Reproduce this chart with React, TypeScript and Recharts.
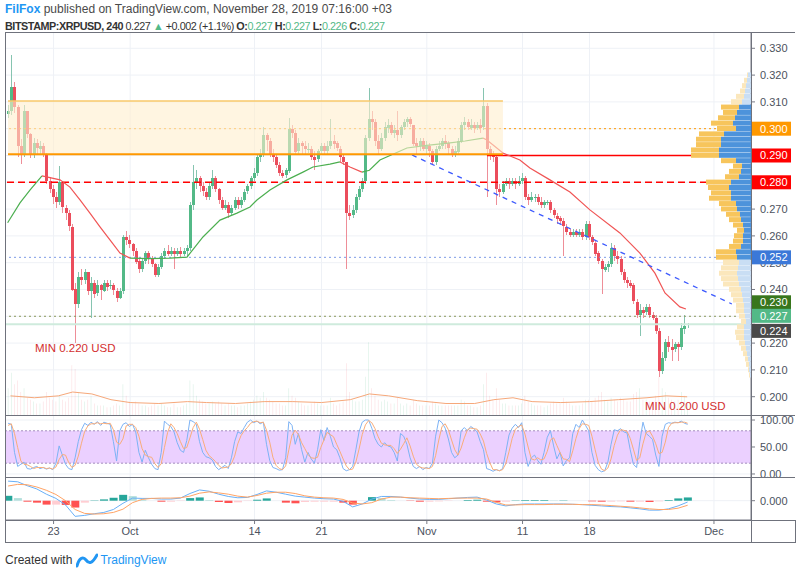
import React from "react";
import {
  ComposedChart,
  Bar,
  Line,
  XAxis,
  YAxis,
  CartesianGrid,
  ReferenceLine,
  ReferenceArea,
  ReferenceDot,
  Cell,
} from "recharts";

// time axis is "days since Sep 1 2019"; 8h candles, prices in thousandths of a USD
const CANDLE_START = 17.25;
const CANDLE_STEP = 1 / 3;
const OPEN_FIRST = 305.5;

const CLOSE = [
  306.5, 315.5, 308, 293.5, 290.5, 306.5, 298, 290.5, 294.5, 292.5,
  293.5, 290.5, 280.5, 277.5, 274.5, 272.5, 280, 270.5, 268.5, 263.5,
  240, 234.5, 244.5, 243.5, 246.5, 239.5, 242.5, 238.5, 241.5, 239.5,
  242.5, 241, 241.5, 239.5, 237, 239.5, 259.5, 258.5, 257, 254.5,
  250.5, 247.5, 250.5, 253.5, 251.5, 249.5, 245.5, 248.5, 252.5, 254.5,
  253.5, 254.5, 253.5, 254.5, 253.5, 254.5, 255.5, 271.5, 280, 281.5,
  278.5, 276.5, 274.5, 278.5, 281.5, 277.5, 273.5, 270.5, 271.5, 268.5,
  270.5, 273.5, 271.5, 273.5, 276.5, 278.5, 281.5, 283.5, 289.5, 290.5,
  297.5, 295.5, 290.5, 289.5, 286.5, 283.5, 282.5, 284.5, 300, 298.5,
  291.5, 294.5, 293.5, 292.5, 292.5, 289.5, 288.5, 291.5, 293.5, 291.5,
  293.5, 295.5, 294.5, 292.5, 289.5, 287.5, 268.5, 267.5, 269.5, 274.5,
  277.5, 280.5, 296.5, 303.5, 302.5, 295.5, 292.5, 296.5, 300.5, 301.5,
  298.5, 299.5, 297.5, 300.5, 302.5, 303.5, 301.5, 294.5, 293.5, 295.5,
  292.5, 293.5, 291.5, 287.5, 292.5, 293.5, 295.5, 294.5, 292.5, 290.5,
  291.5, 295.5, 301.5, 302.5, 300.5, 301.5, 300.5, 301.5, 300.5, 308.5,
  292.5, 290.5, 289.5, 277.5, 276.5, 279.5, 280.5, 279.5, 280.5, 279.5,
  280.5, 281.5, 274.5, 273.5, 274.5, 274.5, 272.5, 271.5, 272.5, 272.5,
  269.5, 267.5, 266.5, 265.5, 263.5, 261.5, 260.5, 261.5, 260.5, 261.5,
  259.5, 264.5, 259.5, 257.5, 253.5, 250.5, 247.5, 248.5, 249.5, 255.5,
  252.5, 251.5, 246.5, 243.5, 242.5, 241.5, 235.5, 230.5, 232.5, 231.5,
  233.5, 230.5, 229.5, 224.5, 209.5, 214.5, 220.5, 218.5, 217.5, 219.5,
  218.5, 225.5, 226.5, 227,
];

const HIGH = [
  309, 327.5, 317.5, 309, 296, 309, 306.5, 298.5, 296.5, 296,
  295.5, 294.5, 291, 282, 279, 276.5, 286, 280.5, 271.5, 269.5,
  264.5, 242.5, 246.5, 247.5, 247.5, 246.5, 244.5, 243.5, 243.5, 242,
  243.5, 243.5, 243.5, 242.5, 240.5, 240.5, 260.5, 262, 260.5, 257.5,
  255.5, 251.5, 251.5, 254.5, 254.5, 252.5, 250, 249.5, 253.5, 255.5,
  256.5, 256, 255.5, 255.5, 256, 255.5, 256.5, 272.5, 286.5, 284.5,
  282.5, 280, 278, 280, 284.5, 282.5, 278, 274.5, 273.5, 272.5,
  271.5, 274.5, 274.5, 274.5, 277.5, 279.5, 282.5, 285.5, 290.5, 292.5,
  300.5, 298.5, 296.5, 292.5, 290.5, 287.5, 284.5, 285.5, 304, 301.5,
  299.5, 296.5, 295.5, 295.5, 294.5, 293.5, 291.5, 292.5, 294.5, 294.5,
  295.5, 303.5, 297.5, 295.5, 293.5, 290.5, 287.5, 271.5, 271.5, 275.5,
  278.5, 281.5, 297.5, 315, 306.5, 303.5, 297.5, 298.5, 302.5, 303.5,
  302.5, 301.5, 306.5, 301.5, 303.5, 304.5, 304.5, 301.5, 296.5, 296.5,
  296.5, 295.5, 294.5, 292.5, 293.5, 295.5, 296.5, 297.5, 295.5, 293.5,
  293.5, 296.5, 302.5, 304.5, 303.5, 303.5, 302.5, 302.5, 303.5, 315,
  309.5, 293.5, 291.5, 290.5, 279.5, 280.5, 281.5, 281.5, 281.5, 281.5,
  282.5, 283.5, 282.5, 275.5, 276.5, 275.5, 275.5, 274.5, 273.5, 273.5,
  273.5, 270.5, 268.5, 267.5, 266.5, 264.5, 262.5, 262.5, 262.5, 262.5,
  262.5, 265.5, 265.5, 260.5, 258.5, 254.5, 251.5, 249.5, 250.5, 257.5,
  256.5, 254.5, 252.5, 247.5, 244.5, 243.5, 242.5, 236.5, 234.5, 233.5,
  234.5, 234.5, 231.5, 230.5, 225.5, 216.5, 221.5, 222.5, 221.5, 220.5,
  220.5, 227.5, 230.5, 227.5,
];

const LOW = [
  304, 305, 306, 289.5, 287, 289.5, 296.5, 289, 289, 290.5,
  290.5, 289.5, 279.5, 276, 272, 270.5, 271.5, 268.5, 266, 262,
  239.5, 220, 233, 241.5, 242, 238, 229.5, 237, 237.5, 236,
  239, 239.5, 240, 238, 235.5, 236.5, 238.5, 256.5, 255.5, 252.5,
  249.5, 246, 246.5, 249.5, 249.5, 248.5, 244.5, 244.5, 247.5, 251.5,
  252.5, 252.5, 247.5, 252.5, 252, 252.5, 252.5, 254.5, 269.5, 277.5,
  276.5, 275, 273.5, 273.5, 277.5, 276.5, 272, 269.5, 269.5, 266.5,
  267.5, 269.5, 270, 270.5, 272.5, 275.5, 277.5, 280.5, 282.5, 287.5,
  289.5, 291.5, 289.5, 287.5, 285.5, 282.5, 281.5, 281.5, 283.5, 296.5,
  290, 290.5, 290.5, 290.5, 291, 288.5, 284.5, 287.5, 290.5, 290.5,
  290.5, 292.5, 292.5, 291.5, 287.5, 286.5, 247.5, 266, 266.5, 268.5,
  273.5, 276.5, 279.5, 295.5, 299.5, 293.5, 290.5, 291.5, 295.5, 298.5,
  297.5, 296.5, 295.5, 296.5, 299.5, 300.5, 300.5, 293.5, 290.5, 291.5,
  291.5, 290.5, 289.5, 286.5, 286.5, 291.5, 292.5, 292.5, 290.5, 289.5,
  289.5, 290.5, 294.5, 299.5, 299.5, 299.5, 298.5, 299.5, 298.5, 299.5,
  274.5, 288.5, 287.5, 271.5, 274.5, 275.5, 278.5, 277.5, 278.5, 277.5,
  278.5, 279.5, 273.5, 271.5, 272.5, 272.5, 271.5, 270.5, 270.5, 271.5,
  268.5, 266.5, 264.5, 264.5, 252.5, 260.5, 259.5, 259.5, 259.5, 259.5,
  258.5, 258.5, 258.5, 256.5, 252.5, 249.5, 238.5, 246.5, 246.5, 248.5,
  250.5, 249.5, 245.5, 242.5, 240.5, 240.5, 234.5, 229.5, 222.5, 229.5,
  230.5, 229.5, 228.5, 223.5, 207.5, 208.5, 213.5, 216.5, 213.5, 216.5,
  213.5, 217.5, 223.5, 225.5,
];

const VOLUME = [
  14, 22, 16, 18, 12, 14, 9, 8, 7, 6,
  6, 7, 12, 9, 8, 7, 10, 8, 7, 9,
  26, 24, 12, 8, 7, 8, 10, 6, 5, 5,
  5, 4, 4, 5, 6, 5, 16, 10, 7, 6,
  7, 6, 5, 5, 4, 5, 6, 5, 6, 5,
  4, 4, 6, 4, 4, 5, 6, 18, 16, 10,
  8, 7, 6, 6, 7, 6, 7, 6, 5, 6,
  5, 5, 4, 5, 5, 6, 7, 8, 10, 9,
  12, 9, 8, 7, 6, 6, 5, 5, 14, 10,
  9, 7, 6, 5, 5, 6, 7, 6, 5, 5,
  5, 9, 6, 5, 6, 7, 27, 12, 8, 7,
  7, 8, 20, 38, 14, 10, 8, 7, 8, 7,
  6, 6, 9, 6, 5, 6, 5, 8, 6, 5,
  5, 5, 5, 7, 6, 5, 5, 5, 5, 5,
  5, 5, 8, 7, 5, 5, 4, 4, 5, 16,
  22, 10, 8, 14, 8, 6, 6, 5, 5, 5,
  5, 6, 10, 7, 6, 5, 5, 5, 4, 5,
  6, 7, 6, 6, 9, 7, 6, 5, 5, 5,
  6, 8, 8, 7, 9, 10, 12, 8, 7, 9,
  8, 7, 9, 8, 7, 7, 11, 12, 14, 8,
  8, 7, 7, 10, 20, 14, 12, 9, 8, 7,
  8, 12, 10, 6,
];

const VOL_MA_T = [17.5, 20, 22.5, 24, 26, 28, 30, 33, 36, 38, 41, 44, 47, 50, 53, 55, 57, 60, 63, 66, 68, 70, 72, 75, 78, 81, 84, 86, 88.2];
const VOL_MA = [10, 9, 10, 12, 11, 8, 6.5, 6, 7, 6.5, 6, 7, 7, 6.5, 8, 11, 10, 7.5, 6, 6, 8, 9, 7, 6.5, 7, 8, 9, 10, 9.5];

// moving average, coloured green / red by segment
const MA_T = [
  17.2, 18.49, 19.53, 20.79, 22.67, 23.71, 24.76, 25.8, 26.85, 27.89, 28.94, 29.98,
  32.07, 34.16, 35.94, 37.61, 39.39, 41.16, 42.52, 43.25, 44.61, 46.39, 48.06, 49.1,
  50.88, 51.92, 52.97, 54.22, 55.0, 56.1, 58.92, 61.0, 63.42, 65.0, 66.86, 67.28,
  68.95, 70.72, 71.77, 73.86, 75.95, 78.04, 81.17, 83.26, 84.83, 85.88, 87.44, 88.07,
];
const MA_V = [
  264.9, 272.3, 277.1, 282.4, 280.9, 278.2, 273.4, 268.5, 263.4, 258.5, 253.6, 251.7,
  251.5, 251.7, 252.1, 259.6, 265.9, 268.5, 270.8, 273.4, 277.1, 280.9, 283.8, 285.7,
  286.8, 287.6, 285.7, 283.8, 284.5, 288.3, 292.8, 293.8, 294.7, 295.4, 296.5, 295.8,
  290.9, 288.3, 285.3, 280.9, 276.4, 269.7, 261.1, 253.6, 246.1, 238.7, 233.5, 232.7,
];
const MA_COLOR = "ggg" + "rrrrrrrr" + "gggggggggggggg" + "rr" + "ggggggg" + "rrrrrrrrrrrrrr";

const STOCH_K = [
  94, 92, 40, 14, 18, 22, 10, 9, 12, 14,
  10, 12, 9, 11, 8, 20, 52, 35, 18, 10,
  8, 30, 60, 82, 94, 90, 96, 92, 97, 90,
  96, 94, 92, 60, 24, 80, 92, 95, 88, 92,
  78, 40, 22, 44, 30, 18, 10, 8, 40, 98,
  92, 88, 78, 58, 44, 40, 62, 100, 97, 92,
  60, 40, 32, 30, 26, 14, 8, 12, 16, 10,
  30, 60, 78, 75, 86, 96, 100, 95, 98, 93,
  96, 55, 25, 12, 10, 7, 8, 30, 97, 90,
  55, 75, 45, 22, 40, 28, 20, 45, 82, 62,
  86, 70, 50, 45, 30, 10, 6, 8, 14, 45,
  78, 96, 100, 100, 85, 66, 55, 50, 58, 52,
  50, 40, 24, 75, 70, 55, 30, 14, 10, 14,
  8, 12, 10, 20, 70, 100, 95, 85, 65, 40,
  30, 35, 80, 86, 80, 88, 84, 78, 60, 45,
  10, 8, 5, 8, 6, 10, 40, 72, 85, 92,
  86, 95, 40, 14, 30, 35, 25, 18, 40, 68,
  80, 52, 28, 40, 15, 25, 30, 75, 92, 86,
  100, 90, 80, 40, 16, 8, 4, 6, 22, 55,
  82, 80, 84, 78, 76, 45, 18, 12, 60, 96,
  75, 70, 64, 35, 14, 70, 92, 95, 94, 96,
  95, 98, 94, 92,
];
const STOCH_D = [
  90, 93, 75, 49, 24, 18, 17, 14, 10, 12,
  12, 12, 10, 11, 9, 13, 27, 36, 35, 21,
  12, 16, 33, 57, 79, 89, 93, 93, 95, 93,
  94, 93, 94, 82, 59, 55, 65, 89, 92, 92,
  86, 70, 47, 35, 32, 31, 19, 12, 19, 49,
  77, 93, 86, 75, 60, 47, 49, 67, 86, 96,
  83, 64, 44, 34, 29, 23, 16, 11, 12, 13,
  19, 33, 56, 71, 80, 86, 94, 97, 98, 95,
  96, 81, 59, 31, 16, 10, 8, 15, 45, 72,
  81, 73, 58, 47, 36, 30, 29, 31, 49, 63,
  77, 73, 69, 55, 42, 28, 15, 8, 9, 22,
  46, 73, 91, 99, 95, 84, 69, 57, 54, 53,
  53, 47, 38, 46, 56, 67, 52, 33, 18, 13,
  11, 11, 10, 14, 34, 63, 88, 93, 82, 63,
  45, 35, 48, 67, 82, 85, 84, 83, 74, 61,
  38, 21, 8, 8, 6, 8, 19, 41, 66, 83,
  88, 91, 74, 50, 28, 26, 30, 26, 28, 42,
  63, 67, 53, 40, 28, 27, 23, 43, 66, 84,
  93, 92, 90, 70, 45, 21, 9, 6, 11, 28,
  53, 72, 82, 81, 79, 66, 46, 25, 30, 56,
  77, 80, 70, 56, 38, 40, 59, 86, 94, 95,
  95, 96, 96, 94,
];

// daily MACD / signal, in thousandths
const MACD_START = 17.25;
const MACD = [
  6.0, 5.8, 4.6, 3.6, 2.0, 0.7, -1.3, -4.8, -4.5, -4.0,
  -3.6, -2.7, -0.8, 0.8, 0.7, 0.7, 0.5, 0.5, 0.8, 2.2,
  3.3, 2.9, 2.0, 1.3, 0.9, 1.0, 1.9, 3.0, 2.6, 2.0,
  1.4, 1.1, 0.8, 0.6, 0.5, -0.2, -1.9, -1.0, 0.5, 1.3,
  1.3, 1.1, 0.8, 0.5, 0.4, 0.4, 0.6, 0.8, 1.0, 1.1,
  0.2, -1.0, -1.6, -1.2, -1.0, -1.0, -1.0, -1.0, -1.0, -1.1,
  -1.2, -1.4, -1.6, -1.8, -1.9, -2.2, -2.5, -2.9, -2.9, -2.5,
  -1.6, -0.4,
];
const SIGNAL = [
  4.5, 5.0, 4.9, 4.2, 3.2, 1.9, 0.0, -2.7, -3.9, -4.1,
  -4.0, -3.6, -2.6, -0.6, 0.4, 0.7, 0.8, 0.8, 0.9, 1.4,
  2.3, 2.7, 2.4, 2.0, 1.4, 1.1, 1.6, 2.3, 2.6, 2.6,
  2.2, 1.5, 1.1, 0.9, 0.8, 0.4, -0.7, -1.0, -0.6, 0.5,
  1.1, 1.1, 0.9, 0.8, 0.7, 0.6, 0.7, 0.8, 0.8, 0.8,
  0.5, -0.5, -1.3, -1.3, -1.2, -1.2, -1.2, -1.1, -1.1, -1.1,
  -1.2, -1.2, -1.3, -1.5, -1.7, -1.9, -2.2, -2.5, -2.7, -2.7,
  -2.3, -1.4,
];

// visible range volume profile, rows of 0.002
const VP_PRICE = [
  320, 318, 316, 314, 312, 310, 308, 306, 304, 302, 300, 298, 296, 294, 292, 290,
  288, 286, 284, 282, 280, 278, 276, 274, 272, 270, 268, 266, 264, 262, 260, 258,
  256, 254, 252, 250, 248, 246, 244, 242, 240, 238, 236, 234, 232, 230, 228, 226,
  224, 222, 220, 218, 216, 214, 212, 210, 208,
];
const VP_TOTAL = [
  4, 7, 9, 11, 15, 20, 30, 28, 33, 40, 34, 52, 55, 55, 60, 60,
  30, 18, 22, 26, 45, 43, 40, 42, 32, 30, 25, 22, 18, 14, 17, 18,
  22, 35, 35, 28, 30, 32, 30, 28, 22, 20, 18, 15, 15, 12, 10, 14,
  16, 15, 12, 10, 8, 6, 5, 3, 2,
];
const VP_UP = [
  3, 4, 5, 6, 7, 9, 12, 14, 16, 18, 15, 27, 30, 30, 32, 32,
  15, 9, 10, 12, 20, 22, 20, 20, 15, 14, 11, 10, 8, 7, 8, 8,
  10, 15, 14, 12, 13, 14, 13, 12, 10, 9, 8, 7, 7, 6, 5, 7,
  7, 7, 6, 5, 4, 3, 2, 2, 1,
];

const DATE_TICKS = [22, 30, 43, 50, 61, 71, 78, 91];
const DATE_LABELS = ["23", "Oct", "14", "21", "Nov", "11", "18", "Dec"];
const PRICE_TICKS = [0.2, 0.21, 0.22, 0.23, 0.24, 0.25, 0.26, 0.27, 0.28, 0.29, 0.3, 0.31, 0.32, 0.33];
// price-scale badges; dy keeps the three close ones from stacking on each other
const PRICE_MARKS = [
  { p: 0.3, color: "#FF9800", dy: 0 },
  { p: 0.29, color: "#FF0000", dy: 0 },
  { p: 0.28, color: "#FF0000", dy: 0 },
  { p: 0.252, color: "#3B78D8", dy: 0 },
  { p: 0.23, color: "#38761D", dy: -14 },
  { p: 0.227, color: "#53B987", dy: -8.5 },
  { p: 0.224, color: "#4A4A4A", dy: -1.5 },
];

const UP = "#53B987";
const DOWN = "#EB4D5C";
const X_DOMAIN: [number, number] = [17.03, 94.87];
const P_DOMAIN: [number, number] = [0.19317, 0.33608];
const AXIS = "#787B86";
const GRID = "#EEF1F6";
const TEXT = "#4C525E";
const BOX = { x1: 17.24, x2: 68.95, y1: 0.2905, y2: 0.3103 };

const candles = CLOSE.map((c, i) => {
  const open = (i === 0 ? OPEN_FIRST : CLOSE[i - 1]) / 1000;
  const close = c / 1000;
  const high = Math.max(HIGH[i] / 1000, open, close);
  const low = Math.min(LOW[i] / 1000, open, close);
  return { t: CANDLE_START + i * CANDLE_STEP, open, close, high, low, range: [low, high], vol: VOLUME[i] };
});

const volMaRows = VOL_MA_T.map((t, i) => ({ t, v: VOL_MA[i] }));

const maRows = MA_T.map((t, i) => {
  const v = MA_V[i] / 1000;
  const g = MA_COLOR[i] === "g" || (i > 0 && MA_COLOR[i - 1] === "g");
  const r = MA_COLOR[i] === "r" || (i > 0 && MA_COLOR[i - 1] === "r");
  return { t, g: g ? v : null, r: r ? v : null };
});

const stochRows = STOCH_K.map((k, i) => ({ t: CANDLE_START + i * CANDLE_STEP, k, d: STOCH_D[i] }));

const macdRows = MACD.map((m, i) => {
  const hist = m - SIGNAL[i];
  const prev = i > 0 ? MACD[i - 1] - SIGNAL[i - 1] : hist;
  let color;
  if (hist >= 0) color = hist >= prev ? "#26A69A" : "#B2DFDB";
  else color = hist < prev ? "#FF5252" : "#FFCDD2";
  return { t: MACD_START + i, macd: m, sig: SIGNAL[i], hist, color };
});

const vpRows = VP_PRICE.map((p, i) => {
  const inValueArea = p >= 252 && p <= 308;
  return {
    p: p / 1000,
    up: VP_UP[i],
    down: VP_TOTAL[i] - VP_UP[i],
    upColor: inValueArea ? "#4D93DB" : "#C9DEF4",
    downColor: inValueArea ? "#F7C55C" : "#FBE7BC",
  };
});

function Candle(props: any) {
  const { x, y, width, height, payload } = props;
  if (!payload || !isFinite(y) || !isFinite(height)) return null;
  const { open, close, high, low } = payload;
  const top = Math.min(y, y + height);
  const h = Math.abs(height);
  const k = high > low ? h / (high - low) : 0;
  const yO = top + (high - open) * k;
  const yC = top + (high - close) * k;
  const up = close >= open;
  const bodyTop = Math.round(Math.min(yO, yC));
  const bodyH = Math.max(1, Math.round(Math.abs(yO - yC)));
  const cx = Math.round(x + width / 2);
  return (
    <g shapeRendering="crispEdges">
      <line x1={cx + 0.5} x2={cx + 0.5} y1={top} y2={top + h} stroke={up ? "#86C4B0" : "#EE8E98"} strokeWidth={1} />
      <rect x={cx - 1} y={bodyTop} width={3} height={bodyH} fill={up ? UP : DOWN} />
    </g>
  );
}

function PriceTick(props: any) {
  const { x, y, payload } = props;
  const v = payload.value as number;
  const mark = PRICE_MARKS.find((m) => Math.abs(m.p - v) < 1e-7);
  if (mark) {
    const cy = y + mark.dy;
    return (
      <g>
        <rect x={x - 8} y={cy - 7} width={39} height={14} fill={mark.color} />
        <text x={x} y={cy + 4} fill="#fff" fontSize={11}>
          {v.toFixed(3)}
        </text>
      </g>
    );
  }
  return (
    <text x={x} y={y + 4} fill={TEXT} fontSize={11}>
      {v.toFixed(3)}
    </text>
  );
}

const hLine = (top: number, left = 5, width = 790) => (
  <div style={{ position: "absolute", left, top, width, height: 1, background: "#6F727C" }} />
);
const vLine = (left: number, top: number, height: number) => (
  <div style={{ position: "absolute", left, top, width: 1, height, background: "#6F727C" }} />
);

export default function App() {
  const priceTicks = [
    ...PRICE_TICKS.filter((v) => !PRICE_MARKS.some((m) => Math.abs(m.p - v) < 1e-7)),
    ...PRICE_MARKS.map((m) => m.p).sort((a, b) => b - a),
  ];
  const teal = { color: UP };
  return (
    <div
      style={{
        position: "absolute",
        left: 0,
        top: 0,
        width: 800,
        height: 575,
        background: "#fff",
        overflow: "hidden",
        fontFamily: "'Liberation Sans', Arial, sans-serif",
      }}
    >
      <style>{`.recharts-surface{overflow:visible}`}</style>
      <div style={{ position: "absolute", left: 5, top: 2, fontSize: 12, color: "#4A4A4A", whiteSpace: "nowrap" }}>
        <span style={{ color: "#2196F3", fontWeight: 600 }}>FilFox</span> published on TradingView.com, November 28, 2019 07:16:00 +03
      </div>
      <div
        style={{
          position: "absolute",
          left: 5,
          top: 20,
          fontSize: 10.8,
          letterSpacing: -0.45,
          color: "#333",
          whiteSpace: "nowrap",
        }}
      >
        <b>BITSTAMP:XRPUSD, 240</b> 0.227 <span style={teal}>▲</span> +0.002 (+1.1%) <b>O:</b>
        <span style={teal}>0.227</span> <b>H:</b>
        <span style={teal}>0.227</span> <b>L:</b>
        <span style={teal}>0.226</span> <b>C:</b>
        <span style={teal}>0.227</span>
      </div>

      {/* price pane */}
      <div style={{ position: "absolute", left: 6, top: 32 }}>
        <ComposedChart width={789} height={383} data={candles} margin={{ top: 0, right: 0, bottom: 0, left: 0 }}>
          <CartesianGrid
            xAxisId="x"
            yAxisId="p"
            stroke={GRID}
            horizontalValues={PRICE_TICKS}
            verticalValues={DATE_TICKS}
          />
          <XAxis xAxisId="x" dataKey="t" type="number" domain={X_DOMAIN} allowDataOverflow hide ticks={DATE_TICKS} />
          <XAxis xAxisId="xv" dataKey="t" type="number" domain={X_DOMAIN} allowDataOverflow hide />
          <YAxis
            yAxisId="p"
            orientation="right"
            width={44}
            domain={P_DOMAIN}
            allowDataOverflow
            ticks={priceTicks}
            interval={0}
            tick={PriceTick}
            tickSize={4}
            tickMargin={5}
            axisLine={{ stroke: AXIS }}
            tickLine={{ stroke: AXIS }}
          />
          <YAxis yAxisId="v" hide domain={[0, 200]} allowDataOverflow />

          <Bar xAxisId="xv" yAxisId="v" dataKey="vol" barSize={2} isAnimationActive={false}>
            {candles.map((c, i) => (
              <Cell key={i} fill={c.close >= c.open ? "rgba(83,185,135,0.3)" : "rgba(235,77,92,0.26)"} />
            ))}
          </Bar>
          <Line
            xAxisId="xv"
            yAxisId="v"
            data={volMaRows}
            dataKey="v"
            stroke="#F6A87A"
            strokeWidth={1}
            dot={false}
            isAnimationActive={false}
          />

          <ReferenceLine xAxisId="x" yAxisId="p" y={0.3} stroke="#FF9800" strokeDasharray="2 3" />
          <ReferenceLine xAxisId="x" yAxisId="p" y={0.28} stroke="#FF0000" strokeWidth={1.5} strokeDasharray="7 4" />
          <ReferenceLine xAxisId="x" yAxisId="p" y={0.252} stroke="#7E9CE6" strokeDasharray="2 3" />
          <ReferenceLine xAxisId="x" yAxisId="p" y={0.23} stroke="#8C9A5B" strokeDasharray="2 3" />
          <ReferenceLine xAxisId="x" yAxisId="p" y={0.227} stroke="#CFEBDD" strokeWidth={2} />
          <ReferenceLine
            xAxisId="x"
            yAxisId="p"
            segment={[{ x: 67.28, y: 0.29 }, { x: 94.87, y: 0.29 }]}
            stroke="#FF0000"
            strokeWidth={1.5}
          />

          <Bar xAxisId="x" yAxisId="p" dataKey="range" barSize={3} shape={Candle} isAnimationActive={false} />

          <Line xAxisId="x" yAxisId="p" data={maRows} dataKey="g" stroke="#4CAF50" strokeWidth={1.2} dot={false} isAnimationActive={false} />
          <Line xAxisId="x" yAxisId="p" data={maRows} dataKey="r" stroke="#F05555" strokeWidth={1.2} dot={false} isAnimationActive={false} />

          <ReferenceLine
            xAxisId="x"
            yAxisId="p"
            segment={[{ x: 59.45, y: 0.2902 }, { x: 92.87, y: 0.2346 }]}
            stroke="#3D5AFE"
            strokeWidth={1.3}
            strokeDasharray="5 5"
          />
          <ReferenceDot
            xAxisId="x"
            yAxisId="p"
            x={19.53}
            y={0.2182}
            r={0}
            fill="none"
            stroke="none"
            label={{ value: "MIN 0.220 USD", position: "right", fill: "#D32F2F", fontSize: 11.5 }}
          />
          <ReferenceDot
            xAxisId="x"
            yAxisId="p"
            x={83.27}
            y={0.19669}
            r={0}
            fill="none"
            stroke="none"
            label={{ value: "MIN 0.200 USD", position: "right", fill: "#D32F2F", fontSize: 11.5 }}
          />
        </ComposedChart>
      </div>

      {/* rectangle drawing, laid over the candles so they show through faded */}
      <div style={{ position: "absolute", left: 6, top: 32 }}>
        <ComposedChart width={789} height={383} data={candles} margin={{ top: 0, right: 0, bottom: 0, left: 0 }}>
          <XAxis dataKey="t" type="number" domain={X_DOMAIN} allowDataOverflow hide />
          <YAxis
            orientation="right"
            width={44}
            domain={P_DOMAIN}
            allowDataOverflow
            tick={false}
            tickLine={false}
            axisLine={false}
          />
          <ReferenceArea
            x1={BOX.x1}
            x2={BOX.x2}
            y1={BOX.y1}
            y2={BOX.y2}
            fill="rgb(255,238,205)"
            fillOpacity={0.6}
            stroke="none"
          />
          <ReferenceLine
            segment={[{ x: BOX.x1, y: BOX.y2 }, { x: BOX.x2, y: BOX.y2 }]}
            stroke="#F9C96A"
            strokeWidth={1.5}
          />
          <ReferenceLine
            segment={[{ x: BOX.x1, y: BOX.y1 }, { x: BOX.x2, y: BOX.y1 }]}
            stroke="#FF9800"
            strokeWidth={2}
          />
        </ComposedChart>
      </div>

      {/* volume profile */}
      <div style={{ position: "absolute", left: 690, top: 32 }}>
        <ComposedChart layout="vertical" width={61} height={383} data={vpRows} margin={{ top: 0, right: 0, bottom: 0, left: 0 }}>
          <XAxis type="number" domain={[0, 61]} reversed hide allowDataOverflow />
          <YAxis type="number" dataKey="p" domain={P_DOMAIN} reversed hide allowDataOverflow />
          <Bar dataKey="up" stackId="vp" barSize={5} isAnimationActive={false}>
            {vpRows.map((r, i) => (
              <Cell key={i} fill={r.upColor} />
            ))}
          </Bar>
          <Bar dataKey="down" stackId="vp" barSize={5} isAnimationActive={false}>
            {vpRows.map((r, i) => (
              <Cell key={i} fill={r.downColor} />
            ))}
          </Bar>
        </ComposedChart>
      </div>

      {/* stochastic RSI pane */}
      <div style={{ position: "absolute", left: 6, top: 415 }}>
        <ComposedChart width={789} height={62} data={stochRows} margin={{ top: 0, right: 0, bottom: 0, left: 0 }}>
          <CartesianGrid stroke={GRID} horizontalValues={[0, 100]} verticalValues={DATE_TICKS} />
          <XAxis dataKey="t" type="number" domain={X_DOMAIN} allowDataOverflow hide ticks={DATE_TICKS} />
          <YAxis
            orientation="right"
            width={44}
            domain={[-5.6, 109.3]}
            allowDataOverflow
            ticks={[0, 50, 100]}
            interval={0}
            tickFormatter={(v: number) => v.toFixed(2)}
            tick={{ fontSize: 11, fill: TEXT }}
            tickSize={4}
            tickMargin={5}
            axisLine={{ stroke: AXIS }}
            tickLine={{ stroke: AXIS }}
          />
          <ReferenceArea y1={20} y2={80} fill="#9915FF" fillOpacity={0.2} stroke="none" />
          <ReferenceLine y={80} stroke="#A48DBE" strokeDasharray="2 2" />
          <ReferenceLine y={20} stroke="#A48DBE" strokeDasharray="2 2" />
          <Line dataKey="k" stroke="#7DB3F5" strokeWidth={1} dot={false} isAnimationActive={false} />
          <Line dataKey="d" stroke="#F9AD7A" strokeWidth={1} dot={false} isAnimationActive={false} />
        </ComposedChart>
      </div>

      {/* MACD pane with date axis */}
      <div style={{ position: "absolute", left: 6, top: 477 }}>
        <ComposedChart width={789} height={65} data={macdRows} margin={{ top: 0, right: 0, bottom: 0, left: 0 }}>
          <CartesianGrid stroke={GRID} horizontalValues={[0]} verticalValues={DATE_TICKS} />
          <XAxis
            dataKey="t"
            type="number"
            domain={X_DOMAIN}
            allowDataOverflow
            ticks={DATE_TICKS}
            interval={0}
            height={22}
            tickFormatter={(v: number) => DATE_LABELS[DATE_TICKS.indexOf(v)] ?? ""}
            tick={{ fontSize: 11, fill: TEXT }}
            tickSize={4}
            tickMargin={3}
            axisLine={{ stroke: AXIS }}
            tickLine={{ stroke: AXIS }}
          />
          <YAxis
            orientation="right"
            width={44}
            domain={[-5.92, 7.27]}
            allowDataOverflow
            ticks={[0]}
            tickFormatter={() => "0.000"}
            tick={{ fontSize: 11, fill: TEXT }}
            tickSize={4}
            tickMargin={5}
            axisLine={{ stroke: AXIS }}
            tickLine={{ stroke: AXIS }}
          />
          <Bar dataKey="hist" barSize={8} isAnimationActive={false}>
            {macdRows.map((r, i) => (
              <Cell key={i} fill={r.color} />
            ))}
          </Bar>
          <Line dataKey="macd" stroke="#6AB0F7" strokeWidth={1} dot={false} isAnimationActive={false} />
          <Line dataKey="sig" stroke="#FFA466" strokeWidth={1} dot={false} isAnimationActive={false} />
        </ComposedChart>
      </div>

      {/* pane frame */}
      {hLine(32)}
      {hLine(415)}
      {hLine(477)}
      {hLine(520)}
      {hLine(542)}
      {vLine(5, 32, 511)}
      {vLine(751, 32, 511)}
      {vLine(795, 520, 23)}

      <div style={{ position: "absolute", left: 5, top: 552, fontSize: 12, color: "#333", whiteSpace: "nowrap", display: "flex", alignItems: "center" }}>
        <span>Created with</span>
        <svg width="22" height="16" style={{ margin: "0 2px 0 4px" }}>
          <path d="M1 14 C3 6, 7 4, 10 8 S 16 12, 21 3" stroke="#2196F3" strokeWidth="3" fill="none" strokeLinecap="round" />
        </svg>
        <span style={{ color: "#2196F3" }}>TradingView</span>
      </div>
    </div>
  );
}
